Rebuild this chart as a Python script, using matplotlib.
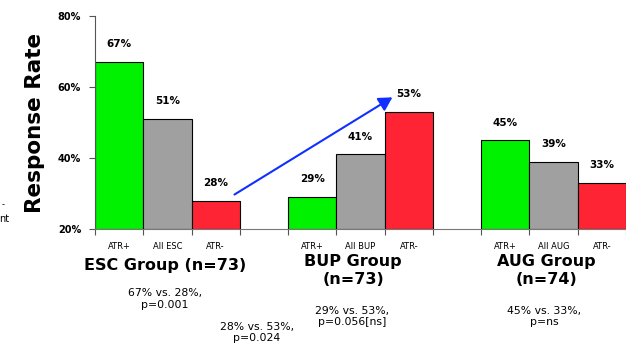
import matplotlib
matplotlib.use("Agg")
import matplotlib.pyplot as plt
import numpy as np

# Data
groups = ["ESC Group (n=73)", "BUP Group\n(n=73)", "AUG Group\n(n=74)"]
bar_labels = [["ATR+", "All ESC", "ATR-"], ["ATR+", "All BUP", "ATR-"], ["ATR+", "All AUG", "ATR-"]]
values = [[67, 51, 28], [29, 41, 53], [45, 39, 33]]
stats = ["67% vs. 28%,\np=0.001", "29% vs. 53%,\np=0.056[ns]", "45% vs. 33%,\np=ns"]
cross_stat = "28% vs. 53%,\np=0.024"
yticks = [20, 40, 60, 80]
colors = ["#00F200", "#A0A0A0", "#FF2433"]

plt.rcParams['font.family'] = ['DejaVu Sans']
fig = plt.figure(figsize=(6.26, 3.48), dpi=100)
ax = fig.add_axes([95/626, 1-229/348, (626-95)/626, (229-16)/348])

for g, vals in enumerate(values):
    for j, v in enumerate(vals):
        x = g*4 + j
        ax.bar(x, v-20, bottom=20, width=1.0, color=colors[j], edgecolor="black", linewidth=0.8)
        ax.text(x, v+5, f"{v}%", ha="center", va="center", fontsize=7.5, fontweight="bold")
        ax.text(x, 16.2, bar_labels[g][j], ha="center", va="top", fontsize=6, clip_on=False)

ax.set_xlim(-0.5, 10.5)
ax.set_ylim(20, 80)
ax.set_yticks(yticks)
ax.set_yticklabels([f"{t}%" for t in yticks], fontsize=7, fontweight="bold")
ax.set_xticks(np.arange(-0.5, 11, 1.0))
ax.set_xticklabels([])
ax.tick_params(axis="x", length=4, color="#555555", direction="out")
ax.tick_params(axis="y", length=4, color="#555555", pad=6)
for s in ["top", "right"]:
    ax.spines[s].set_visible(False)
ax.spines["left"].set_color("#555555")
ax.spines["bottom"].set_color("#777777")
ax.spines["left"].set_linewidth(0.8)
ax.spines["bottom"].set_linewidth(0.8)
ax.set_ylabel("Response Rate", fontsize=15.5, fontweight="bold", labelpad=9)

# Group titles & stats
ax.text(0.95, 9.6, groups[0], ha="center", va="center", fontsize=11.5, fontweight="bold", clip_on=False)
ax.text(4.85, 8.3, groups[1], ha="center", va="center", fontsize=11.5, fontweight="bold", clip_on=False, linespacing=1.25)
ax.text(8.85, 8.3, groups[2], ha="center", va="center", fontsize=11.5, fontweight="bold", clip_on=False, linespacing=1.25)
ax.text(0.95, 0.3, stats[0], ha="center", va="center", fontsize=7.8, clip_on=False)
ax.text(4.83, -4.7, stats[1], ha="center", va="center", fontsize=7.8, clip_on=False)
ax.text(8.8, -4.7, stats[2], ha="center", va="center", fontsize=7.8, clip_on=False)
ax.text(2.85, -9.2, cross_stat, ha="center", va="center", fontsize=7.8, clip_on=False)

# Arrow
ax.annotate("", xy=(5.71, 57.5), xytext=(2.34, 29.3),
            arrowprops=dict(arrowstyle="-|>,head_length=0.8,head_width=0.45", color="#1030FF", lw=1.5),
            annotation_clip=False)

fig.text(2/626, 1-205/348, "-", fontsize=6, va="center", ha="left")
fig.text(-1/626, 1-219/348, "nt", fontsize=7, va="center", ha="left")

fig.savefig("out.png", dpi=100)
